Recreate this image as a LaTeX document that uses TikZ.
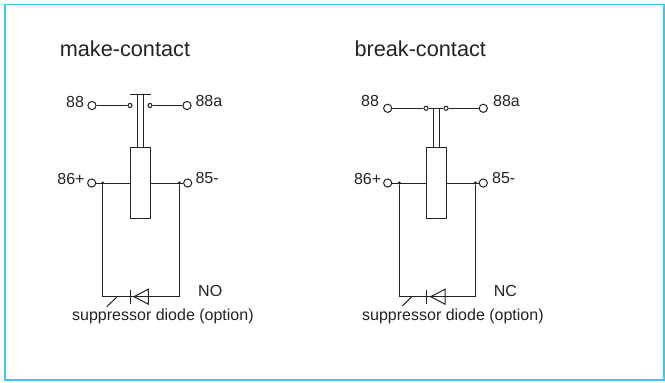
\documentclass[tikz,border=0pt]{standalone}
\usepackage{fontspec}
\setmainfont{Liberation Sans}
\usetikzlibrary{positioning}
\definecolor{frameblue}{RGB}{70,195,240}
\definecolor{wire}{RGB}{35,35,35}

\begin{document}
\begin{tikzpicture}[x=1pt, y=-1pt, line width=1pt, draw=wire, text=wire,
    term/.style={circle, draw, fill=white, minimum size=8.2pt, inner sep=0pt},
    contact/.style={circle, draw, fill=white, minimum size=4.2pt, inner sep=0pt},
    junction/.style={circle, fill=wire, minimum size=3.4pt, inner sep=0pt},
    coil/.style={draw, minimum width=20.5pt, minimum height=70.5pt, inner sep=0pt},
    lbl/.style={inner sep=0pt, font=\fontsize{16}{19}\selectfont},
    title/.style={inner sep=0pt, font=\fontsize{21.7}{26}\selectfont}]
    \useasboundingbox (0,0) rectangle (665,383);
    \draw[frameblue, line width=1.7pt] (5,4.5) rectangle (664,380);

    % make-contact
    \node[title, anchor=base west] (Ltitle) at (59.3,56.5) {make-contact};
    \node[coil] (Lcoil) at (140.3,183) {};
    \node[term] (L88) at (92,105.5) {};
    \node[contact] (Ls88) at (130,105.5) {};
    \node[contact] (Ls88a) at (150,105.5) {};
    \node[term] (L88a) at (187,105.5) {};
    \node[term] (L86) at (91.7,183) {};
    \node[junction] (Ld86) at (102.7,183) {};
    \node[term] (L85) at (187.7,183) {};
    \node[junction] (Ld85) at (179.3,183) {};
    \coordinate (Lbl) at (102.7,296.7);
    \coordinate (Lbr) at (179.3,296.7);
    \coordinate (Ldiode) at (130,296.7);
    \node[lbl, anchor=base east] (Ll88) at (84.5,107.2) {88};
    \node[lbl, anchor=base west] (Ll88a) at (195,106.7) {88a};
    \node[lbl, anchor=base east] (Ll86) at (85,184.3) {86+};
    \node[lbl, anchor=base west] (Ll85) at (195,183.3) {85-};
    \node[lbl, anchor=base west] (Lno) at (197.7,296) {NO};
    \node[lbl, anchor=base west] (Lsup) at (71.7,320.5) {suppressor diode (option)};

    % make-contact wires
    \draw (L88) -- (Ls88);
    \draw (Ls88a) -- (L88a);
    \draw (130,94) -- (150.6,94);
    \draw (Lcoil.north) ++(-3.3,0) -- ++(0,-53.75);
    \draw (Lcoil.north) ++(3.3,0) -- ++(0,-53.75);
    \draw (L86) -- (Lcoil);
    \draw (Lcoil) -- (L85);
    \draw (Ld86) -- (Lbl) -- (Lbr) -- (Ld85);
    \draw (Ldiode) ++(0,-7) -- ++(0,14);
    \draw (Ldiode) ++(4,0) -- ++(14.3,-7.5) -- ++(0,15) -- cycle;
    \draw (106.7,306.7) -- (116.7,297.3);

    % break-contact
    \node[title, anchor=base west] (Rtitle) at (354,56.5) {break-contact};
    \node[coil] (Rcoil) at (436.3,183) {};
    \node[term] (R88) at (387.7,108.3) {};
    \node[contact] (Rs88) at (426,108.3) {};
    \node[contact] (Rs88a) at (446,108.3) {};
    \node[term] (R88a) at (483.3,108.3) {};
    \node[term] (R86) at (387.7,183) {};
    \node[junction] (Rd86) at (399.3,183) {};
    \node[term] (R85) at (483.3,183) {};
    \node[junction] (Rd85) at (475.3,183) {};
    \coordinate (Rbl) at (399.3,296.7);
    \coordinate (Rbr) at (475.3,296.7);
    \coordinate (Rdiode) at (426,296.7);
    \node[lbl, anchor=base east] (Rl88) at (379.5,106.7) {88};
    \node[lbl, anchor=base west] (Rl88a) at (492.7,106.7) {88a};
    \node[lbl, anchor=base east] (Rl86) at (381.7,184.3) {86+};
    \node[lbl, anchor=base west] (Rl85) at (491.7,183.3) {85-};
    \node[lbl, anchor=base west] (Rnc) at (493.3,296) {NC};
    \node[lbl, anchor=base west] (Rsup) at (361.7,320.5) {suppressor diode (option)};

    % break-contact wires
    \draw (R88) -- (Rs88) -- (Rs88a) -- (R88a);
    \draw (Rcoil.north) ++(-3.3,0) -- ++(0,-39.45);
    \draw (Rcoil.north) ++(3.3,0) -- ++(0,-39.45);
    \draw (R86) -- (Rcoil);
    \draw (Rcoil) -- (R85);
    \draw (Rd86) -- (Rbl) -- (Rbr) -- (Rd85);
    \draw (Rdiode) ++(0,-7) -- ++(0,14);
    \draw (Rdiode) ++(4.7,0) -- ++(14.3,-7.5) -- ++(0,15) -- cycle;
    \draw (402.3,306) -- (411.7,296.7);
\end{tikzpicture}
\end{document}
